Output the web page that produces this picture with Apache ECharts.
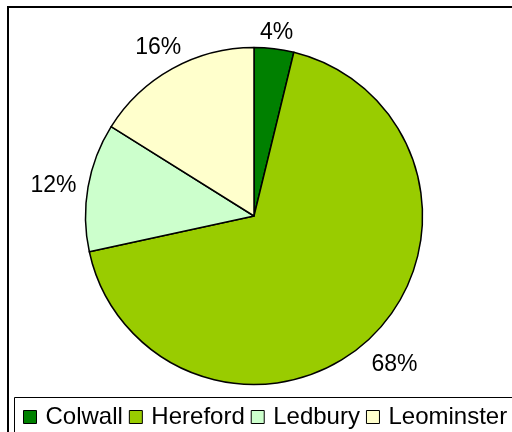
<!DOCTYPE html>
<html><head><meta charset="utf-8">
<script src="https://cdn.jsdelivr.net/npm/echarts@6/dist/echarts.min.js"></script>
<style>html,body{margin:0;padding:0;background:#fff}#c{width:512px;height:432px}</style>
</head><body><div id="c"></div>
<script>
var categories = ['Colwall', 'Hereford', 'Ledbury', 'Leominster'];
var values = [3.8, 67.8, 12.3, 16.1];
var colors = ['#008000', '#99cc00', '#ccffcc', '#ffffcc'];

var CX = 254, CY = 216, R = 168.5, GAP = 11, HALF_H = 8, TEXT_DROP = 5;
var total = values.reduce(function (a, b) { return a + b; }, 0);
function midAngle(i) {
  var s = 0;
  for (var k = 0; k < i; k++) s += values[k];
  return (s + values[i] / 2) / total * Math.PI * 2;
}

var data = categories.map(function (n, i) {
  return { name: n, value: values[i], itemStyle: { color: colors[i] } };
});
var chart = echarts.init(document.getElementById('c'), null, { renderer: 'canvas' });
chart.setOption({
  animation: false,
  backgroundColor: '#fff',
  graphic: [
    { type: 'rect', shape: { x: 8, y: 7, width: 600, height: 600 }, style: { fill: null, stroke: '#000', lineWidth: 2 }, silent: true },
    { type: 'rect', shape: { x: 14.5, y: 397.5, width: 600, height: 100 }, style: { fill: null, stroke: '#000', lineWidth: 1 }, silent: true }
  ],
  legend: {
    left: 18, top: 400, width: 1000, itemWidth: 13, itemHeight: 13, itemGap: 6,
    icon: 'rect',
    itemStyle: { borderColor: '#000', borderWidth: 1 },
    textStyle: { fontFamily: 'Liberation Sans, Arial', fontSize: 24, color: '#000', padding: [0, 0, 0, 4] },
    data: categories
  },
  series: [
    {
      type: 'pie', center: [CX, CY], radius: R, startAngle: 90, clockwise: true,
      percentPrecision: 0,
      itemStyle: { borderColor: '#000', borderWidth: 1.5 },
      label: { show: true, position: 'inside', formatter: '{d}%', fontFamily: 'Liberation Sans, Arial', fontSize: 23, color: '#000', align: 'center', verticalAlign: 'middle' },
      labelLine: { show: false },
      labelLayout: function (p) {
        var a = midAngle(p.dataIndex);
        var dx = Math.sin(a), dy = -Math.cos(a);
        var halfW = p.labelRect.width / 2;
        var d = R + GAP + Math.abs(dx) * halfW + Math.abs(dy) * HALF_H;
        return { x: CX + dx * d, y: CY + dy * d + TEXT_DROP };
      },
      emphasis: { disabled: true },
      data: data
    }
  ]
});
</script></body></html>
